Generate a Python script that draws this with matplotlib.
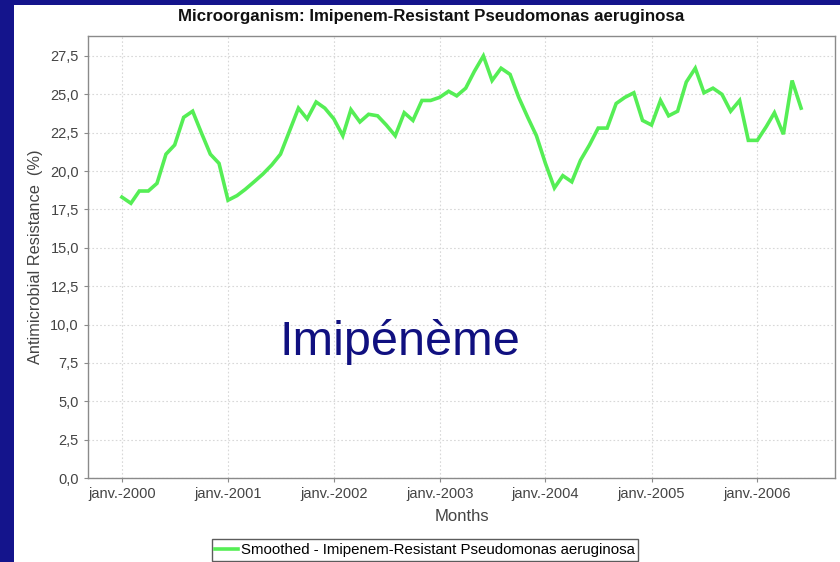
import matplotlib
matplotlib.use("Agg")
import matplotlib.pyplot as plt
from matplotlib.patches import Rectangle
import pandas as pd

title = "Microorganism: Imipenem-Resistant Pseudomonas aeruginosa"
series_name = "Smoothed - Imipenem-Resistant Pseudomonas aeruginosa"
start_month = "2000-01-01"
values = [
    18.3, 17.9, 18.7, 18.7, 19.2, 21.1, 21.7, 23.5, 23.9, 22.5, 21.1, 20.5,
    18.1, 18.4, 18.8, 19.3, 19.8, 20.4, 21.1, 22.6, 24.1, 23.4, 24.5, 24.1,
    23.4, 22.3, 24.0, 23.2, 23.7, 23.6, 23.0, 22.3, 23.8, 23.3, 24.6, 24.6,
    24.8, 25.2, 24.9, 25.4, 26.5, 27.5, 25.9, 26.7, 26.3, 24.8, 23.5, 22.3,
    20.5, 18.9, 19.7, 19.3, 20.7, 21.7, 22.8, 22.8, 24.4, 24.8, 25.1, 23.3,
    23.0, 24.6, 23.6, 23.9, 25.8, 26.7, 25.1, 25.4, 25.0, 23.9, 24.6, 22.0,
    22.0, 22.9, 23.8, 22.4, 25.9, 24.1,
]
year_ticks = ["2000-01-01", "2001-01-01", "2002-01-01", "2003-01-01",
              "2004-01-01", "2005-01-01", "2006-01-01"]
year_labels = ["janv.-2000", "janv.-2001", "janv.-2002", "janv.-2003",
               "janv.-2004", "janv.-2005", "janv.-2006"]
y_ticks = [0.0, 2.5, 5.0, 7.5, 10.0, 12.5, 15.0, 17.5, 20.0, 22.5, 25.0, 27.5]
y_labels = ["0,0", "2,5", "5,0", "7,5", "10,0", "12,5", "15,0", "17,5",
            "20,0", "22,5", "25,0", "27,5"]

plt.rcParams['font.family'] = ['Liberation Sans', 'DejaVu Sans']

W, H = 840, 562
fig = plt.figure(figsize=(W / 100, H / 100), dpi=100)
fig.patch.set_facecolor("white")

navy = "#14148c"
# slide border (top and left)
fig.patches.append(Rectangle((0, 1 - 5 / H), 1, 5 / H, transform=fig.transFigure,
                             facecolor=navy, edgecolor="none", zorder=10))
fig.patches.append(Rectangle((0, 0), 14 / W, 1, transform=fig.transFigure,
                             facecolor=navy, edgecolor="none", zorder=10))

left, right, top, bottom = 88, 835, 36, 478
ax = fig.add_axes([left / W, 1 - bottom / H, (right - left) / W, (bottom - top) / H])

dates = pd.date_range(start_month, periods=len(values), freq="MS")
ax.plot(dates, values, color="#55ee55", lw=2.6, solid_joinstyle="miter",
        label=series_name, zorder=3)

pad = pd.Timedelta(days=117)
ax.set_xlim(dates[0] - pad, dates[-1] + pad)
ax.set_ylim(0, 28.8)

ax.set_yticks(y_ticks)
ax.set_yticklabels(y_labels)
ax.set_xticks(pd.to_datetime(year_ticks))
ax.set_xticklabels(year_labels)

ax.grid(True, color="#d8d8d8", linestyle=(0, (1.5, 2)), lw=0.8)
ax.set_axisbelow(True)
for s in ax.spines.values():
    s.set_color("#8a8a8a")
    s.set_linewidth(1.0)
ax.tick_params(axis="both", colors="#8a8a8a", length=3, width=0.8,
               labelcolor="#444444", labelsize=10.5)

ax.set_ylabel("Antimicrobial Resistance  (%)", fontsize=11.8, color="#444444",
              labelpad=5)
ax.set_xlabel("Months", fontsize=12, color="#444444", labelpad=6)

fig.text(431 / W, 1 - 17 / H, title, ha="center", va="center",
         fontsize=12.2, fontweight="bold", color="#111111")

fig.text(400 / W, 1 - 342 / H, "Imipénème", ha="center", va="center",
         fontsize=35, color="#101080")

leg = fig.legend(loc="upper center", bbox_to_anchor=(425 / W, 1 - 539 / H),
                 frameon=True, fancybox=False, fontsize=10.8, handlelength=1.5,
                 handletextpad=0.2, borderpad=0.25, borderaxespad=0)
leg.get_frame().set_edgecolor("#333333")
leg.get_frame().set_linewidth(1.0)

fig.savefig("out.png", dpi=100, facecolor="white")
